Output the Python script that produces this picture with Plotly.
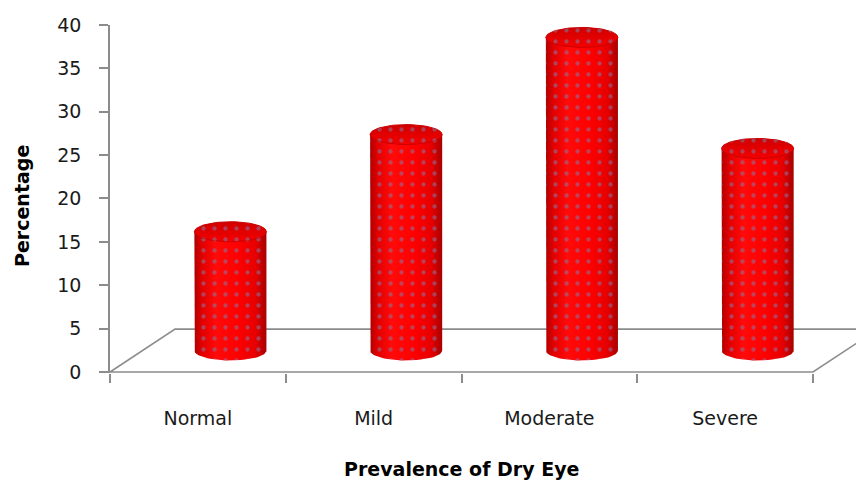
import numpy as np
import plotly.graph_objects as go

categories = ["Normal", "Mild", "Moderate", "Severe"]
values = [13.7, 24.9, 36.1, 23.3]
y_ticks = [0, 5, 10, 15, 20, 25, 30, 35, 40]

# 3D look parameters (style)
depth_x = 0.37      # floor depth, x units
depth_y = 4.94      # floor depth, y units
rx = 0.205          # cylinder radius (x units)
ry = 1.15           # ellipse half-height (y units)

fig = go.Figure()

# Floor outline
floor_x = [4 + depth_x, depth_x, 0, 4, 4 + depth_x]
floor_y = [depth_y, depth_y, 0, 0, depth_y]
fig.add_trace(go.Scatter(x=floor_x, y=floor_y, mode="lines",
                         line=dict(color="#8c8c8c", width=1.6),
                         hoverinfo="skip", showlegend=False))

body_scale = [[0, "#b00000"], [0.1, "#e00000"], [0.3, "#ff0a0a"],
              [0.6, "#ff0000"], [0.85, "#e60000"], [1, "#a80000"]]
dots = dict(shape=".", fgcolor="#8080b0", bgcolor="rgba(0,0,0,0)",
            size=11, solidity=0.12)

t_front = np.linspace(np.pi, 2 * np.pi, 40)
t_full = np.linspace(0, 2 * np.pi, 80)

for i, v in enumerate(values):
    cx = i + 0.5 + depth_x / 2
    base = depth_y / 2
    top = base + v
    bx = np.concatenate([[cx - rx], cx + rx * np.cos(t_front), [cx + rx]])
    by = np.concatenate([[top], base + ry * np.sin(t_front), [top]])
    fig.add_trace(go.Scatter(x=bx, y=by, fill="toself", mode="lines",
                             line=dict(width=0, color="rgba(0,0,0,0)"),
                             fillgradient=dict(type="horizontal", colorscale=body_scale),
                             hoverinfo="skip", showlegend=False))
    fig.add_trace(go.Scatter(x=bx, y=by, fill="toself", mode="lines",
                             line=dict(width=0, color="rgba(0,0,0,0)"),
                             fillcolor="rgba(0,0,0,0)", fillpattern=dots,
                             hoverinfo="skip", showlegend=False))
    ex = cx + rx * np.cos(t_full)
    ey = top + ry * np.sin(t_full)
    fig.add_trace(go.Scatter(x=ex, y=ey, fill="toself", mode="lines",
                             line=dict(width=1, color="#c80000"),
                             fillgradient=dict(type="vertical",
                                               colorscale=[[0, "#f40000"], [1, "#d00000"]]),
                             hoverinfo="skip", showlegend=False))
    fig.add_trace(go.Scatter(x=ex, y=ey, fill="toself", mode="lines",
                             line=dict(width=0, color="rgba(0,0,0,0)"),
                             fillcolor="rgba(0,0,0,0)", fillpattern=dots,
                             hoverinfo="skip", showlegend=False))

font_family = "DejaVu Sans, sans-serif"
tick_font = dict(size=19, family=font_family, color="#1a1a1a")
title_font = dict(size=19, family=font_family, color="#000")

fig.update_layout(
    width=856, height=473,
    margin=dict(l=102, r=0, t=17, b=108),
    plot_bgcolor="white", paper_bgcolor="white",
    showlegend=False,
    font=dict(family=font_family, size=19, color="#1a1a1a"),
    xaxis=dict(range=[0, 754 / 175.75], showgrid=False, zeroline=False,
               showline=False, tickmode="array",
               tickvals=[i + 0.5 for i in range(len(categories))],
               ticktext=categories, ticks="", ticklabelstandoff=32,
               tickfont=tick_font,
               minor=dict(tickmode="array", tickvals=list(range(len(categories) + 1)),
                          ticks="outside", ticklen=9, tickcolor="#8c8c8c", tickwidth=1.6),
               fixedrange=True),
    yaxis=dict(range=[-0.12, 40], showgrid=False, zeroline=False,
               showline=True, linecolor="#8c8c8c", linewidth=1.6,
               tickmode="array", tickvals=y_ticks, ticks="outside",
               ticklen=9, tickcolor="#8c8c8c", tickwidth=1.6,
               ticklabelstandoff=14,
               tickfont=tick_font,
               fixedrange=True),
    annotations=[
        dict(text="<b>Percentage</b>", xref="paper", yref="paper",
             x=-88 / 754, y=0.48, textangle=-90, showarrow=False,
             xanchor="center", yanchor="middle", font=title_font),
        dict(text="<b>Prevalence of Dry Eye</b>", xref="x", yref="paper",
             x=2, y=-96 / 348, showarrow=False, xanchor="center", yanchor="middle",
             font=title_font),
    ],
)

fig.write_html("out.html")
